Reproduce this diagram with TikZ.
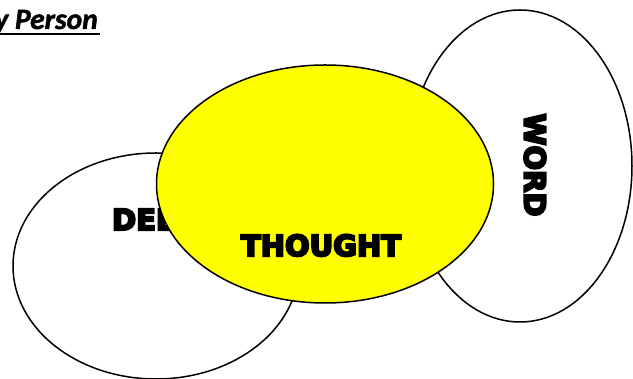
\documentclass[tikz,border=0pt]{standalone}
\usepackage{fontspec}
\usetikzlibrary{shapes.geometric}
\newfontfamily\blackfont{DejaVu Sans Bold}
\newfontfamily\titlefont{Carlito}
\newcommand\heavytext[2]{\special{pdf:literal direct 0 G 2 Tr #1 w}#2\special{pdf:literal direct 0 Tr}}
\definecolor{pureyellow}{RGB}{255,255,0}
\tikzset{
  circ/.style={ellipse, draw=black, line width=1.5pt, inner sep=0pt},
  bigword/.style={font=\blackfont\fontsize{29}{29}\selectfont, inner sep=0pt, text=black},
}
\begin{document}
\begin{tikzpicture}[x=1pt,y=1pt]
\useasboundingbox (0,0) rectangle (633,379);
\begin{scope}
\clip (0,0) rectangle (633,379);
\node[circ, fill=white, minimum width=286pt, minimum height=226pt] (deed) at (156,113) {};
\node[circ, fill=white, minimum width=224pt, minimum height=312pt] (word) at (520,213) {};
\node[bigword, anchor=base] (deedtext) at (156,149) {\heavytext{2.1}{DEED}};
\node[bigword, rotate=-90] (wordtext) at (535,214) {\heavytext{2.1}{WORD}};
\node[circ, fill=pureyellow, minimum width=337pt, minimum height=238pt] (thought) at (325,195) {};
\node[bigword, anchor=base] (thoughttext) at (321,123) {\heavytext{2.1}{THOUGHT}};
\node[font=\titlefont\bfseries\itshape\fontsize{29.5}{29.5}\selectfont, anchor=base east, inner sep=0pt] (title) at (98,350) {\heavytext{0.5}{y Person}};
\coordinate (ulA) at (0,345);
\coordinate (ulB) at (100,345);
\draw[line width=2pt] (ulA) -- (ulB);
\end{scope}
\end{tikzpicture}
\end{document}
